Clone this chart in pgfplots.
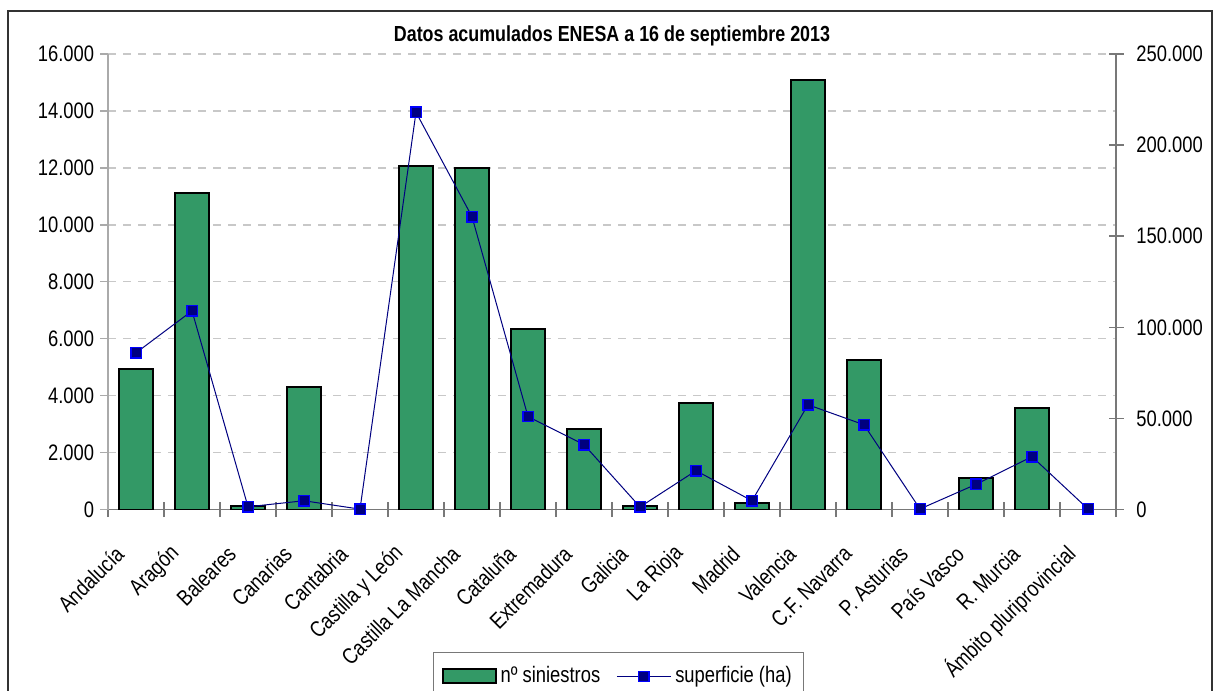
\documentclass[border=0pt]{standalone}
\usepackage{fontspec}
\setmainfont{Liberation Sans}[FakeStretch=0.82]
\usepackage{pgfplots}
\pgfplotsset{compat=1.18}
\definecolor{bargreen}{RGB}{51,153,102}
\definecolor{navyblue}{RGB}{0,0,128}
\definecolor{gridgray}{RGB}{200,200,200}
\definecolor{axgray}{RGB}{120,120,120}
\definecolor{axlight}{RGB}{170,170,170}

\pgfplotstableread{
x siniestros superficie
0  4920  86000
1  11100 109000
2  130   1500
3  4290  4800
4  0     200
5  12070 218000
6  12000 160700
7  6330  51000
8  2820  35600
9  130   1400
10 3730  21300
11 220   4800
12 15100 57500
13 5250  46500
14 0     300
15 1120  13800
16 3580  29000
17 0     300
}\datos

\pgfplotsset{
  every axis/.append style={
    scale only axis, width=504pt, height=227.75pt,
    at={(54pt,90.75pt)}, anchor=south west,
    xmin=-0.5, xmax=17.5, scaled y ticks=false,
  },
}

\begin{document}
\fontsize{11.2}{13.4}\selectfont
\begin{tikzpicture}
\useasboundingbox (0pt,0pt) rectangle (608pt,345.5pt);
\clip (0pt,0pt) rectangle (608pt,345.5pt);
\draw[line width=1pt, black!80] (4pt,-5pt) -- (4pt,340pt) -- (606pt,340pt) -- (606pt,-5pt);

\begin{axis}[
  ymin=0, ymax=16000,
  axis x line*=bottom, axis y line*=left,
  x axis line style={axgray, line width=0.7pt},
  y axis line style={axlight, line width=0.7pt},
  ytick={0,2000,4000,6000,8000,10000,12000,14000,16000},
  yticklabels={0,2.000,4.000,6.000,8.000,10.000,12.000,14.000,16.000},
  yticklabel style={xshift=1pt},
  ytick align=outside,
  major tick length=4pt,
  minor tick length=7.5pt,
  every major y tick/.style={axlight, line width=0.7pt},
  ymajorgrids,
  grid style={gridgray, dash pattern=on 4pt off 3.5pt, line width=0.7pt},
  xtick={0,...,17},
  xticklabels={Andalucía,Aragón,Baleares,Canarias,Cantabria,Castilla y León,Castilla La Mancha,Cataluña,Extremadura,Galicia,La Rioja,Madrid,Valencia,C.F. Navarra,P. Asturias,País Vasco,R. Murcia,Ámbito pluriprovincial},
  every major x tick/.style={draw=none},
  minor xtick={-0.5,0.5,...,17.5},
  xtick align=center,
  every minor x tick/.style={axgray, line width=0.7pt},
  xticklabel style={xshift=-8pt, yshift=-18.25pt, rotate=45, anchor=east, inner sep=0pt},
  title={\fontsize{10.9}{13}\selectfont\bfseries Datos acumulados ENESA a 16 de septiembre 2013},
  title style={at={(0.5,1)}, anchor=center, yshift=3pt, inner sep=0pt},
]
\addplot[ybar, bar width=17.35pt, bar shift=0pt, fill=bargreen, draw=black, line width=1pt,
  unbounded coords=discard, y filter/.expression={y==0 ? nan : y}] table[x=x, y=siniestros] {\datos};
\end{axis}

\begin{axis}[
  ymin=0, ymax=250000,
  axis y line*=right, axis x line=none,
  y axis line style={axgray, line width=0.7pt},
  ytick={0,50000,100000,150000,200000,250000},
  yticklabels={0,50.000,100.000,150.000,200.000,250.000},
  yticklabel style={xshift=2.5pt},
  ytick align=center,
  major tick length=7.5pt,
  every major y tick/.style={axgray, line width=0.7pt},
  legend style={at={(0.3224,-0.3128)}, anchor=north west, draw=axgray, line width=0.7pt,
    legend columns=2, inner xsep=4pt, inner ysep=5pt,
    /tikz/every even column/.append style={column sep=6pt}},
  legend cell align=left,
]
\addlegendimage{legend image code/.code={\draw[fill=bargreen, draw=black, line width=1pt] (0pt,-3.5pt) rectangle (26.5pt,3.5pt);}}
\addlegendentry{nº siniestros}
\addlegendimage{legend image code/.code={\draw[navyblue, line width=0.5pt] (0pt,0pt) -- (27pt,0pt); \draw[fill=navyblue, draw=blue, line width=0.7pt] (10.9pt,-2.6pt) rectangle (16.1pt,2.6pt);}}
\addlegendentry{superficie (ha)}
\addplot[forget plot, navyblue, line width=0.5pt, mark=square*, mark size=2.6pt,
  mark options={fill=navyblue, draw=blue, line width=0.7pt}]
  table[x=x, y=superficie] {\datos};
\end{axis}
\end{tikzpicture}
\end{document}
